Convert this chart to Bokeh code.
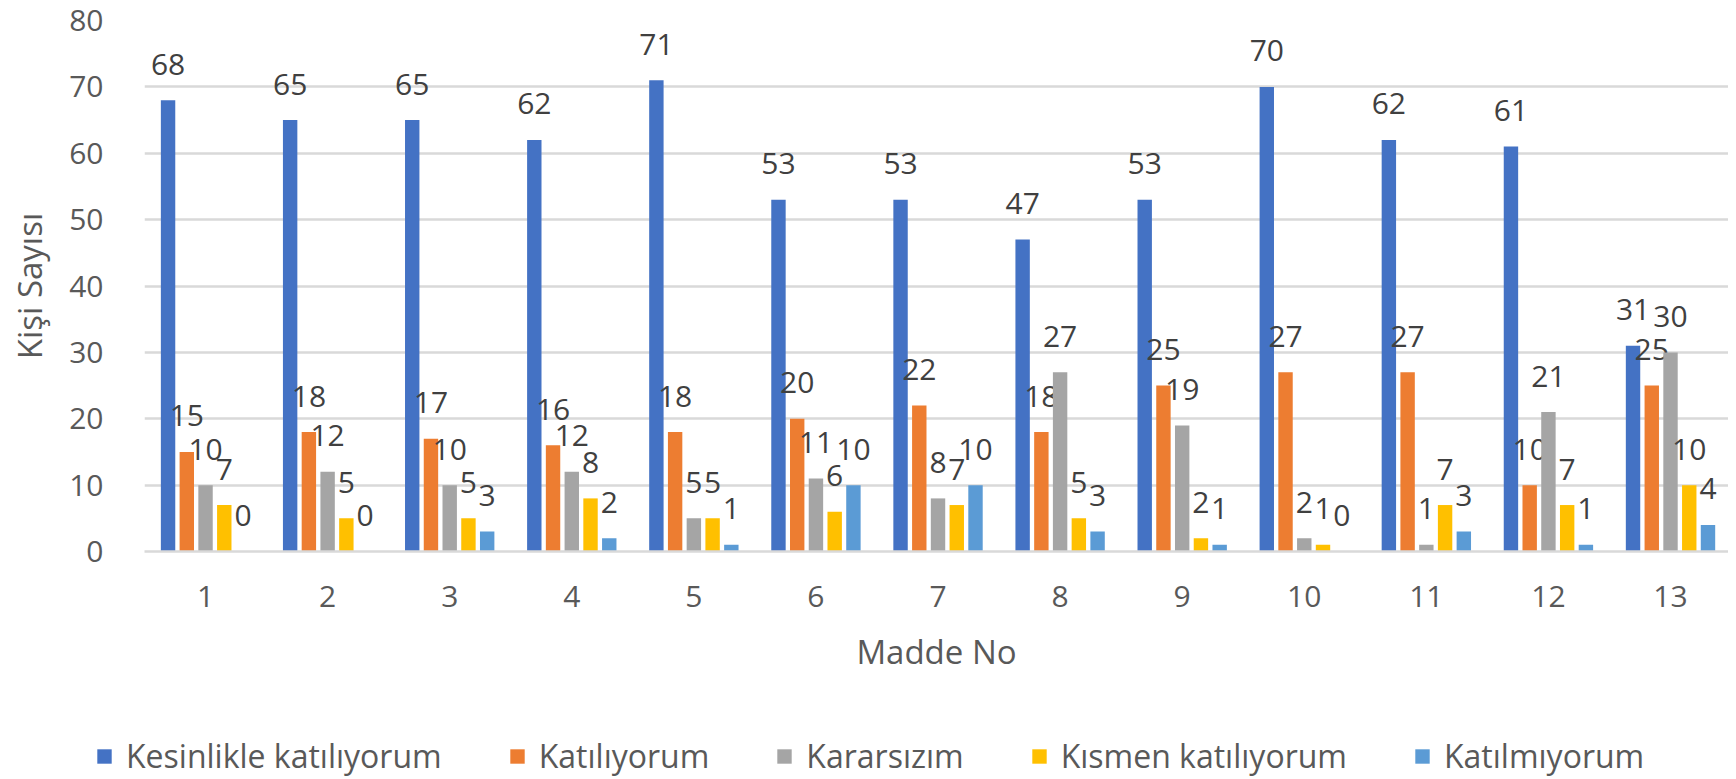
from bokeh.plotting import figure
from bokeh.layouts import column
from bokeh.models import (ColumnDataSource, Range1d, FixedTicker, Legend, LegendItem)
from bokeh.transform import dodge
from bokeh.core.properties import value
from bokeh.embed import file_html
from bokeh.resources import INLINE

# ---- data ----
madde = [1, 2, 3, 4, 5, 6, 7, 8, 9, 10, 11, 12, 13]
series_names = ["Kesinlikle katılıyorum", "Katılıyorum", "Kararsızım",
                "Kısmen katılıyorum", "Katılmıyorum"]
kesinlikle = [68, 65, 65, 62, 71, 53, 53, 47, 53, 70, 62, 61, 31]
katiliyorum = [15, 18, 17, 16, 18, 20, 22, 18, 25, 27, 27, 10, 25]
kararsizim = [10, 12, 10, 12, 5, 11, 8, 27, 19, 2, 1, 21, 30]
kismen = [7, 5, 5, 8, 5, 6, 7, 5, 2, 1, 7, 7, 10]
katilmiyorum = [0, 0, 3, 2, 1, 10, 10, 3, 1, 0, 3, 1, 4]
y_ticks = [0, 10, 20, 30, 40, 50, 60, 70, 80]

series_values = [kesinlikle, katiliyorum, kararsizim, kismen, katilmiyorum]
colors = ["#4472C4", "#ED7D31", "#A5A5A5", "#FFC000", "#5B9BD5"]

FONT = "Open Sans"
TXT = "#595959"

p = figure(width=1728, height=700,
           x_range=Range1d(0.5, 13.475), y_range=Range1d(0, 80),
           output_backend="svg", toolbar_location=None,
           min_border_left=144, min_border_right=0,
           min_border_top=20, min_border_bottom=149)
p.outline_line_color = None
p.background_fill_color = "white"
p.border_fill_color = "white"

# axes
p.xaxis.ticker = FixedTicker(ticks=madde)
p.yaxis.ticker = FixedTicker(ticks=y_ticks)
p.xgrid.grid_line_color = None
p.ygrid.grid_line_color = "#D9D9D9"
p.ygrid.grid_line_width = 2.5

for ax in (p.xaxis[0], p.yaxis[0]):
    ax.major_tick_line_color = None
    ax.minor_tick_line_color = None
    ax.major_label_text_font = FONT
    ax.major_label_text_color = TXT
    ax.major_label_text_font_size = "30px"
    ax.axis_label_text_font = FONT
    ax.axis_label_text_color = TXT
    ax.axis_label_text_font_style = "normal"

p.yaxis.axis_line_color = None
p.yaxis.major_label_standoff = 35
p.yaxis.axis_label = "Kişi Sayısı"
p.yaxis.axis_label_text_font_size = "33px"
p.yaxis.axis_label_standoff = 14

p.xaxis.axis_line_color = "#D9D9D9"
p.xaxis.axis_line_width = 2.5
p.xaxis.major_label_standoff = 28
p.xaxis.axis_label = "Madde No"
p.xaxis.axis_label_text_font_size = "33px"
p.xaxis.axis_label_standoff = 19

step = 0.1535
width = 0.118

for i, (name, vals, col) in enumerate(zip(series_names, series_values, colors)):
    src = ColumnDataSource(dict(x=madde, top=vals, label=[str(v) for v in vals]))
    off = (i - 2) * step
    p.vbar(x=dodge("x", off, range=p.x_range), top="top", bottom=0,
           width=width, source=src, fill_color=col, line_color=None)
    p.text(x=dodge("x", off, range=p.x_range), y="top", text="label", source=src,
           text_font=value(FONT), text_font_size="30px", text_color="#404040",
           text_align="center", text_baseline="middle", y_offset=-36)

# ---- legend strip (own figure so the legend is not clipped) ----
pl = figure(width=1728, height=77, x_range=Range1d(0, 1), y_range=Range1d(0, 1),
            output_backend="svg", toolbar_location=None,
            x_axis_type=None, y_axis_type=None, min_border=0)
pl.frame_align = False
pl.outline_line_color = None
pl.grid.visible = False
items = []
for name, col in zip(series_names, colors):
    # zero-height placeholder bar: only supplies the legend swatch colour
    r = pl.vbar(x=[0], top=[0], bottom=[0], width=0.0, fill_color=col, line_color=None)
    items.append(LegendItem(label=name, renderers=[r]))
lg = Legend(items=items, location=(95, 0), orientation="horizontal",
            glyph_width=18, glyph_height=18, label_standoff=13,
            padding=0, margin=0, spacing=66,
            border_line_color=None, background_fill_alpha=0,
            label_text_font=FONT, label_text_font_size="32px",
            label_text_color=TXT)
pl.add_layout(lg, "center")

layout = column(p, pl, spacing=0)
open("out.html", "w").write(file_html(layout, INLINE))
